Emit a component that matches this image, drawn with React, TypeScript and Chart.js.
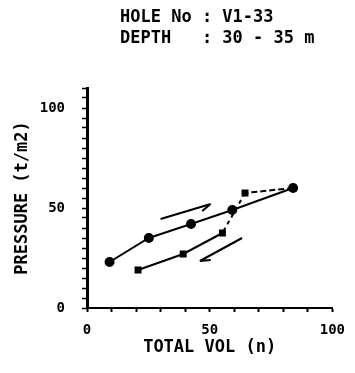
import React, { useEffect, useRef } from "react";
import { Chart, registerables } from "chart.js";

Chart.register(...registerables);

const titleLines = ["HOLE No : V1-33", "DEPTH   : 30 - 35 m"];
const xTitle = "TOTAL VOL (n)";
const yTitle = "PRESSURE (t/m2)";

const loadX = [9.2, 25.2, 42.4, 59.2, 84];
const loadY = [23, 35, 42, 49, 60];
const unloadX = [84, 64.4, 55.2, 39.2, 20.8];
const unloadY = [60, 57.5, 37.5, 27, 19];

const arrowUpX = [30, 50.4];
const arrowUpY = [44.5, 52];
const arrowDownX = [63.2, 46];
const arrowDownY = [35, 23.5];

const xLabels = [0, 50, 100];
const yLabels = [0, 50, 100];

const FONT = "'DejaVu Sans Mono', monospace";

export default function App() {
  const ref = useRef<HTMLCanvasElement | null>(null);

  useEffect(() => {
    document.body.style.margin = "0";
    const canvas = ref.current!;
    const extras = {
      id: "extras",
      afterDraw(chart: any) {
        const ctx = chart.ctx;
        const xs = chart.scales.x;
        const ys = chart.scales.y;
        ctx.save();
        ctx.fillStyle = "#000";
        ctx.font = `bold 17px ${FONT}`;
        ctx.textBaseline = "middle";
        ctx.textAlign = "left";
        ctx.fillText(titleLines[0], 120, 18);
        ctx.fillText(titleLines[1], 120, 39);
        const drawArrow = (ax: number[], ay: number[], side: number) => {
          const x0 = xs.getPixelForValue(ax[0]);
          const y0 = ys.getPixelForValue(ay[0]);
          const x1 = xs.getPixelForValue(ax[1]);
          const y1 = ys.getPixelForValue(ay[1]);
          ctx.strokeStyle = "#000";
          ctx.lineWidth = 2;
          ctx.beginPath();
          ctx.moveTo(x0, y0);
          ctx.lineTo(x1, y1);
          const ang = Math.atan2(y1 - y0, x1 - x0);
          const len = 11;
          ctx.moveTo(x1, y1);
          ctx.lineTo(x1 - len * Math.cos(ang + side * 0.4), y1 - len * Math.sin(ang + side * 0.4));
          ctx.stroke();
        };
        drawArrow(arrowUpX, arrowUpY, -1);
        drawArrow(arrowDownX, arrowDownY, 1);
        ctx.restore();
      },
    };

    const chart = new Chart(canvas, {
      type: "scatter",
      data: {
        datasets: [
          {
            data: loadX.map((x, i) => ({ x, y: loadY[i] })),
            showLine: true,
            borderColor: "#000",
            backgroundColor: "#000",
            borderWidth: 2,
            pointRadius: 4,
            pointStyle: "circle",
          },
          {
            data: unloadX.map((x, i) => ({ x, y: unloadY[i] })),
            showLine: true,
            borderColor: "#000",
            backgroundColor: "#000",
            borderWidth: 2,
            pointRadius: 3.5,
            pointStyle: "rect",
            segment: {
              borderDash: (c: any) =>
                c.p0DataIndex === 0 ? [6, 3] : c.p0DataIndex === 1 ? [4, 4] : [],
            },
          },
        ],
      },
      options: {
        responsive: false,
        animation: false,
        events: [],
        layout: { padding: { left: 0, right: 18, top: 88, bottom: 0 } },
        plugins: { legend: { display: false }, tooltip: { enabled: false }, title: { display: false } },
        scales: {
          x: {
            type: "linear",
            min: 0,
            max: 100,
            afterFit: (s: any) => {
              s.height = 65;
            },
            border: { color: "#000", width: 2 },
            grid: { drawOnChartArea: false, color: "#000", tickLength: 4, tickWidth: 2 },
            ticks: {
              stepSize: 10,
              autoSkip: false,
              maxRotation: 0,
              color: "#000",
              padding: 10,
              font: { family: FONT, size: 14, weight: "bold" },
              callback: (v: any) => (xLabels.includes(v) ? String(v) : ""),
            },
            title: {
              display: true,
              text: xTitle,
              color: "#000",
              font: { family: FONT, size: 17, weight: "bold" },
              padding: { top: 0, bottom: 15 },
            },
          },
          y: {
            type: "linear",
            min: 0,
            max: 110,
            afterFit: (s: any) => {
              s.width = 87;
            },
            border: { color: "#000", width: 3 },
            grid: { drawOnChartArea: false, color: "#000", tickLength: 5, tickWidth: 1.5 },
            ticks: {
              stepSize: 5,
              autoSkip: false,
              color: "#000",
              padding: 17,
              font: { family: FONT, size: 14, weight: "bold" },
              callback: (v: any) => (yLabels.includes(v) ? String(v) : ""),
            },
            title: {
              display: true,
              text: yTitle,
              color: "#000",
              font: { family: FONT, size: 17, weight: "bold" },
              padding: { top: 12, bottom: 0 },
            },
          },
        },
      },
      plugins: [extras],
    } as any);
    return () => chart.destroy();
  }, []);

  return <canvas ref={ref} width={355} height={373} style={{ display: "block" }} />;
}
